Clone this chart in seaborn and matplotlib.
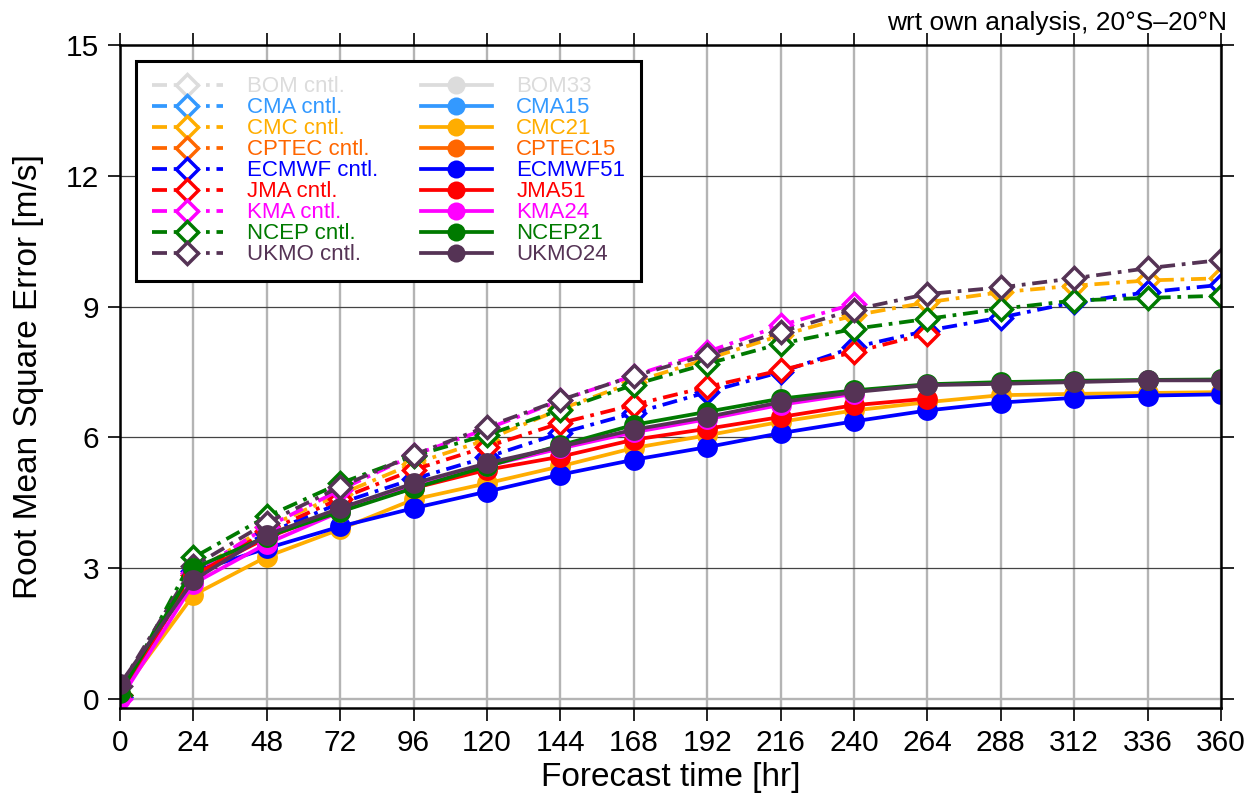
import numpy as np
import pandas as pd
import matplotlib
matplotlib.use("Agg")
import matplotlib.pyplot as plt
import seaborn as sns
from matplotlib.lines import Line2D

nan = np.nan
hours = [0, 24, 48, 72, 96, 120, 144, 168, 192, 216, 240, 264, 288, 312, 336, 360]
yticks = [0, 3, 6, 9, 12, 15]

centers = ["BOM", "CMA", "CMC", "CPTEC", "ECMWF", "JMA", "KMA", "NCEP", "UKMO"]
cntl_labels = ["BOM cntl.", "CMA cntl.", "CMC cntl.", "CPTEC cntl.", "ECMWF cntl.",
               "JMA cntl.", "KMA cntl.", "NCEP cntl.", "UKMO cntl."]
ens_labels = ["BOM33", "CMA15", "CMC21", "CPTEC15", "ECMWF51", "JMA51", "KMA24", "NCEP21", "UKMO24"]
colors = ["#dcdcdc", "#3399ff", "#ffad00", "#ff6600", "#0000ff", "#ff0000", "#ff00ff", "#007a00", "#553355"]

# control forecasts (NaN = no data)
bom_cntl = [nan] * 16
cma_cntl = [nan] * 16
cmc_cntl = [0.10, 2.90, 3.95, 4.70, 5.40, 5.95, 6.65, 7.27, 7.80, 8.34, 8.80, 9.10, 9.33, 9.48, 9.60, 9.65]
cptec_cntl = [nan] * 16
ecmwf_cntl = [0.05, 2.95, 3.80, 4.50, 5.05, 5.55, 6.10, 6.56, 7.04, 7.50, 8.07, 8.45, 8.75, 9.10, 9.33, 9.50]
jma_cntl = [0.10, 2.85, 3.85, 4.60, 5.26, 5.79, 6.33, 6.75, 7.16, 7.54, 7.96, 8.38, nan, nan, nan, nan]
kma_cntl = [0.00, 2.90, 3.95, 4.80, 5.60, 6.20, 6.85, 7.42, 7.96, 8.57, 9.06, nan, nan, nan, nan, nan]
ncep_cntl = [0.10, 3.25, 4.19, 4.95, 5.58, 6.06, 6.63, 7.21, 7.69, 8.15, 8.49, 8.72, 8.95, 9.14, 9.20, 9.25]
ukmo_cntl = [0.30, 3.05, 4.05, 4.87, 5.60, 6.25, 6.86, 7.41, 7.89, 8.42, 8.93, 9.29, 9.44, 9.65, 9.88, 10.07]

# ensemble means
bom33 = [nan] * 16
cma15 = [nan] * 16
cmc21 = [0.10, 2.39, 3.27, 3.90, 4.58, 4.95, 5.34, 5.76, 6.05, 6.36, 6.62, 6.81, 6.97, 7.00, 7.02, 7.04]
cptec15 = [nan] * 16
ecmwf51 = [0.10, 2.92, 3.46, 3.96, 4.38, 4.76, 5.15, 5.49, 5.78, 6.10, 6.37, 6.62, 6.80, 6.91, 6.96, 6.99]
jma51 = [0.10, 2.85, 3.70, 4.35, 4.84, 5.26, 5.56, 5.95, 6.20, 6.47, 6.74, 6.89, nan, nan, nan, nan]
kma24 = [0.00, 2.65, 3.57, 4.30, 4.90, 5.35, 5.75, 6.12, 6.42, 6.75, 7.00, nan, nan, nan, nan, nan]
ncep21 = [0.15, 3.00, 3.73, 4.30, 4.84, 5.34, 5.82, 6.29, 6.59, 6.89, 7.08, 7.22, 7.27, 7.30, 7.32, 7.33]
ukmo24 = [0.35, 2.73, 3.77, 4.38, 4.95, 5.41, 5.79, 6.18, 6.47, 6.81, 7.04, 7.20, 7.23, 7.27, 7.31, 7.31]

cntl_series = [bom_cntl, cma_cntl, cmc_cntl, cptec_cntl, ecmwf_cntl, jma_cntl, kma_cntl, ncep_cntl, ukmo_cntl]
ens_series = [bom33, cma15, cmc21, cptec15, ecmwf51, jma51, kma24, ncep21, ukmo24]

plt.rcParams["font.family"] = ["Liberation Sans", "DejaVu Sans"]

fig = plt.figure(figsize=(12.51, 7.97), dpi=100)
ax = fig.add_axes([0.096, 0.1117, 0.880, 0.832])

dashdot = (0, (4.0, 1.8, 1.0, 1.8))
LW = 2.7
MS_D = 11.5
MS_O = 15

# grid
for h in hours:
    ax.axvline(h, color="#b4b4b4", lw=1.7, zorder=1)
ax.axhline(0, color="#b4b4b4", lw=1.7, zorder=1)
for v in yticks[1:-1]:
    ax.axhline(v, color="#444444", lw=0.9, zorder=1)

for lab, vals, col in zip(cntl_labels, cntl_series, colors):
    df = pd.DataFrame({"hour": hours, "rmse": vals}).dropna()
    if len(df) == 0:
        continue
    sns.lineplot(data=df, x="hour", y="rmse", ax=ax, color=col, linewidth=LW, linestyle=dashdot,
                 marker="D", markersize=MS_D, markerfacecolor="white", markeredgecolor=col,
                 markeredgewidth=2.5, zorder=3, legend=False)

for lab, vals, col in zip(ens_labels, ens_series, colors):
    df = pd.DataFrame({"hour": hours, "rmse": vals}).dropna()
    if len(df) == 0:
        continue
    sns.lineplot(data=df, x="hour", y="rmse", ax=ax, color=col, linewidth=LW, linestyle="-",
                 marker="o", markersize=MS_O, markerfacecolor=col, markeredgecolor=col,
                 markeredgewidth=0, zorder=4, legend=False)

ax.set_xlim(0, 360)
ax.set_ylim(-0.2, 15)
ax.set_xticks(hours)
ax.set_yticks(yticks)
ax.tick_params(axis="both", which="both", direction="out", length=9, width=1.2,
               top=True, right=True, labelsize=21.5, pad=6)
for s in ax.spines.values():
    s.set_linewidth(1.8)
    s.set_color("black")
    s.set_zorder(6)

ax.set_xlabel("Forecast time [hr]", fontsize=24, labelpad=4)
ax.set_ylabel("Root Mean Square Error [m/s]", fontsize=24, labelpad=16)

fig.text(0.981, 0.962, "wrt own analysis, 20°S–20°N", ha="right", va="baseline", fontsize=19)

# legend
handles = []
for col in colors:
    handles.append(Line2D([], [], color=col, linewidth=LW, linestyle=dashdot, marker="D", markersize=MS_D,
                          markerfacecolor="white", markeredgecolor=col, markeredgewidth=2.5))
for col in colors:
    handles.append(Line2D([], [], color=col, linewidth=LW, linestyle="-", marker="o", markersize=13,
                          markerfacecolor=col, markeredgecolor=col, markeredgewidth=0))
leg = ax.legend(handles, cntl_labels + ens_labels, ncol=2, loc="upper left",
                bbox_to_anchor=(0.0145, 0.976), borderaxespad=0, fontsize=16,
                handlelength=3.2, handletextpad=1.1, columnspacing=1.9, labelspacing=0.0,
                frameon=True, fancybox=False, framealpha=1, edgecolor="black",
                borderpad=0.7)
leg.get_frame().set_linewidth(2.2)
leg.set_zorder(10)
for txt, col in zip(leg.get_texts(), colors + colors):
    txt.set_color(col)

fig.savefig("out.png", dpi=100)
